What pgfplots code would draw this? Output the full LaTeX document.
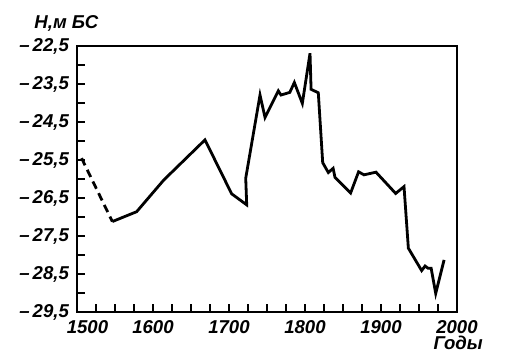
\documentclass[border=0pt]{standalone}
\usepackage{pgfplots}
\pgfplotsset{compat=1.18}
\usepackage{fontspec}
\setmainfont{Liberation Sans}
\begin{document}
\begin{tikzpicture}[x=1pt,y=1pt]
\useasboundingbox (-38.5pt,-21pt) rectangle (220.5pt,156pt);
\begin{axis}[
  at={(0pt,0pt)}, anchor=south west,
  scale only axis, width=190pt, height=133pt,
  xmin=1500, xmax=2000, ymin=-29.5, ymax=-22.5,
  clip=false,
  axis line style={line width=0.75pt},
  tick style={line width=0.9pt, black},
  tick align=inside,
  major tick length=4pt, minor tick length=4pt,
  xtick={1500,1600,1700,1800,1900,2000},
  minor xtick={1525,1550,1575,1625,1650,1675,1725,1750,1775,1825,1850,1875,1925,1950,1975},
  xticklabels={\hspace*{10.5pt}1500,1600,1700,1800,1900,2000},
  ytick={-29.5,-28.5,-27.5,-26.5,-25.5,-24.5,-23.5,-22.5},
  minor ytick={-29,-28,-27,-26,-25,-24,-23},
  yticklabels={{–\,29,5},{–\,28,5},{–\,27,5},{–\,26,5},{–\,25,5},{–\,24,5},{–\,23,5},{–\,22,5}},
  xtick pos=bottom, ytick pos=left,
  ticklabel style={font=\fontsize{9.3}{11}\selectfont\itshape\bfseries},
  xticklabel style={yshift=-0.5pt},
  yticklabel style={xshift=-0.5pt},
]
\addplot[black, line width=1.4pt, dash pattern=on 4pt off 2.5pt] coordinates {
(1506,-25.45) (1546.5,-27.12)
};
\addplot[black, line width=1.4pt, line join=miter] coordinates {
(1546.5,-27.12) (1578.5,-26.86) (1614,-26.03) (1668.4,-24.97) (1703.5,-26.39)
(1723.3,-26.68) (1722,-25.98) (1740.8,-23.79) (1747.4,-24.38) (1764.9,-23.68)
(1768.4,-23.79) (1780,-23.72) (1786,-23.46) (1796.5,-24.01) (1806.6,-22.69)
(1808,-23.64) (1817.5,-23.73) (1823.3,-25.57) (1830.7,-25.83) (1837,-25.72)
(1839.5,-25.96) (1860,-26.37) (1870.5,-25.81) (1877.6,-25.89) (1893.4,-25.82)
(1905,-26.07) (1919.3,-26.38) (1930.3,-26.2) (1936,-27.82) (1953.5,-28.41)
(1958,-28.29) (1962,-28.35) (1966,-28.35) (1972,-29.01) (1983,-28.13)
};
\draw[line width=1.35pt] (rel axis cs:0,1) -- (rel axis cs:0,0) -- (rel axis cs:1,0);
\node[font=\fontsize{9.3}{11}\selectfont\itshape\bfseries] at (rel axis cs:-0.028,1.0865) {Н,м БС};
\node[font=\fontsize{9.3}{11}\selectfont\itshape\bfseries] at (rel axis cs:1.003,-0.1165) {Годы};
\end{axis}
\end{tikzpicture}
\end{document}
